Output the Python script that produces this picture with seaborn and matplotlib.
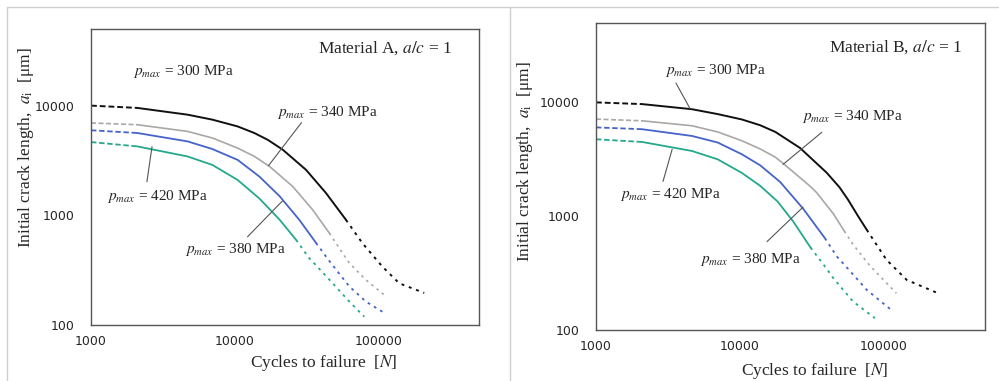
import numpy as np
import pandas as pd
import seaborn as sns
import matplotlib.pyplot as plt
from matplotlib.lines import Line2D
from matplotlib.ticker import FixedLocator, LogLocator, NullFormatter

# --- data (cycles to failure N, initial crack length a_i in um) ---
# Material A
a300_N = [1000, 2100, 4700, 7000, 10500, 13700, 17000, 21600, 31400, 43200, 59600, 77600, 107000, 140000, 209000]
a300_a = [10000, 9530, 8270, 7450, 6460, 5630, 4880, 3970, 2600, 1600, 910, 557, 340, 240, 196]
a340_N = [1000, 2100, 4700, 7000, 10500, 13700, 17500, 25400, 35000, 45700, 56500, 63000, 82300, 110000]
a340_a = [6950, 6700, 5820, 5070, 4100, 3450, 2790, 1830, 1120, 687, 451, 366, 257, 188]
a380_N = [1000, 2100, 4700, 7000, 10500, 14900, 20600, 28200, 36900, 44500, 63000, 82300, 107000]
a380_a = [5960, 5630, 4720, 4020, 3200, 2250, 1490, 910, 560, 400, 224, 163, 132]
a420_N = [1000, 2100, 4700, 7000, 10500, 14900, 20600, 26800, 33100, 36900, 48200, 63000, 80000]
a420_a = [4650, 4250, 3440, 2880, 2100, 1420, 910, 597, 406, 350, 240, 163, 119]

# Material B
b300_N = [1000, 2090, 4640, 7000, 10300, 13800, 17600, 26100, 40000, 49000, 56200, 66100, 75900, 104000, 144000, 238000]
b300_a = [10000, 9660, 8710, 7890, 7080, 6300, 5500, 3980, 2410, 1800, 1400, 1000, 760, 414, 275, 210]
b340_N = [1000, 2090, 4640, 7000, 10300, 13800, 17600, 20000, 30600, 34100, 44500, 53000, 61200, 79400, 122000]
b340_a = [7130, 6890, 6230, 5500, 4600, 3900, 3300, 2900, 1840, 1610, 1050, 740, 560, 370, 210]
b380_N = [1000, 2090, 4640, 7000, 10300, 13800, 19000, 27500, 38900, 47000, 55100, 75900, 116000]
b380_a = [6030, 5810, 5070, 4440, 3500, 2800, 2000, 1160, 640, 443, 355, 225, 145]
b420_N = [1000, 2090, 4640, 7000, 10300, 13800, 18200, 23400, 30900, 40000, 44500, 61200, 86500]
b420_a = [4740, 4490, 3740, 3160, 2400, 1850, 1350, 900, 530, 345, 285, 177, 127]

pressures = [300, 340, 380, 420]
colors = ['#111111', '#aaa7a4', '#4563c8', '#24a88c']
widths = [1.4, 1.2, 1.3, 1.3]

panels = [
    dict(name='Material A', curves=[(a300_N, a300_a), (a340_N, a340_a), (a380_N, a380_a), (a420_N, a420_a)],
         solid=[(1, 10), (1, 9), (1, 8), (1, 7)],
         rect=[0.0911, 0.147, 0.388, 0.777], ylab=(-0.142, 0.60), xlab=(0.60, -0.095),
         title_xy=(0.93, 0.936),
         labels={300: (1950, 20600), 340: (19600, 8630), 420: (1290, 1480), 380: (4480, 484)},
         leaders={340: ((29200, 7000), (17200, 2830)),
                  420: ((2450, 2020), (2660, 4230)),
                  380: ((12300, 637), (21500, 1350))}),
    dict(name='Material B', curves=[(b300_N, b300_a), (b340_N, b340_a), (b380_N, b380_a), (b420_N, b420_a)],
         solid=[(1, 12), (1, 11), (1, 8), (1, 8)],
         rect=[0.5966, 0.134, 0.389, 0.806], ylab=(-0.157, 0.55), xlab=(0.563, -0.102),
         title_xy=(0.941, 0.922),
         labels={300: (3020, 18900), 340: (26900, 7570), 420: (1470, 1550), 380: (5270, 414)},
         leaders={300: ((3590, 14800), (4500, 8800)),
                  340: ((37000, 5460), (19900, 2850)),
                  420: ((2920, 2020), (3380, 3870)),
                  380: ((15400, 597), (27400, 1200))}),
]

sns.set_style('white')
plt.rcParams['mathtext.fontset'] = 'stix'
serif = 'Liberation Serif'

fig = plt.figure(figsize=(9.99, 3.81), dpi=100)

for p in panels:
    ax = fig.add_axes(p['rect'])
    ax.set_xscale('log')
    ax.set_yscale('log')
    for (N, a), (i0, i1), c, lw in zip(p['curves'], p['solid'], colors, widths):
        # dashed start, solid middle, dotted tail
        sns.lineplot(x=N[:i0 + 1], y=a[:i0 + 1], ax=ax, color=c, lw=lw, linestyle=(0, (3, 1.5)), sort=False)
        sns.lineplot(x=N[i0:i1 + 1], y=a[i0:i1 + 1], ax=ax, color=c, lw=lw, sort=False)
        sns.lineplot(x=N[i1:], y=a[i1:], ax=ax, color=c, lw=lw, linestyle=(0, (1.5, 2.5)), sort=False)

    ax.set_xlim(1000, 500000)
    ax.set_ylim(100, 50000)
    ax.xaxis.set_major_locator(FixedLocator([1000, 10000, 100000]))
    ax.set_xticklabels(['1000', '10000', '100000'])
    ax.xaxis.set_minor_locator(LogLocator(base=10, subs=np.arange(2, 10)))
    ax.xaxis.set_minor_formatter(NullFormatter())
    ax.yaxis.set_major_locator(FixedLocator([100, 1000, 10000]))
    ax.set_yticklabels(['100', '1000', '10000'])
    ax.yaxis.set_minor_locator(LogLocator(base=10, subs=np.arange(2, 10)))
    ax.yaxis.set_minor_formatter(NullFormatter())
    ax.tick_params(which='both', direction='in', labelsize=9, color='#555555')
    ax.tick_params(which='major', length=4, width=0.8)
    ax.tick_params(which='minor', length=3, width=0.6)
    ax.tick_params(axis='y', pad=12)
    ax.tick_params(axis='x', pad=7)
    for s in ax.spines.values():
        s.set_color('#555555')
        s.set_linewidth(1.0)

    ax.set_ylabel(r'Initial crack length,  $a_{\mathrm{i}}$  [μm]', fontsize=12.5, family=serif)
    ax.yaxis.set_label_coords(*p['ylab'])
    ax.set_xlabel(r'Cycles to failure  [$N$]', fontsize=12.5, family=serif)
    ax.xaxis.set_label_coords(*p['xlab'])

    ax.text(*p['title_xy'], p['name'] + r', $a/c$ = 1', transform=ax.transAxes,
            ha='right', va='center', fontsize=12.5, family=serif)
    for pm in pressures:
        x, y = p['labels'][pm]
        ax.text(x, y, r'$p_{max}$' + f' = {pm} MPa', ha='left', va='center', fontsize=11, family=serif)
    for pm, (s, e) in p['leaders'].items():
        ax.plot([s[0], e[0]], [s[1], e[1]], color='#555555', lw=0.8)

# thin frame lines of the original screenshot
for xs, ys in [([0.007, 1.0], [0.982, 0.982]), ([0.007, 0.007], [0.0, 0.982]), ([0.511, 0.511], [0.0, 0.982])]:
    fig.add_artist(Line2D(xs, ys, transform=fig.transFigure, color='#cfcfcf', lw=1.0))

fig.savefig('out.png', dpi=100)
